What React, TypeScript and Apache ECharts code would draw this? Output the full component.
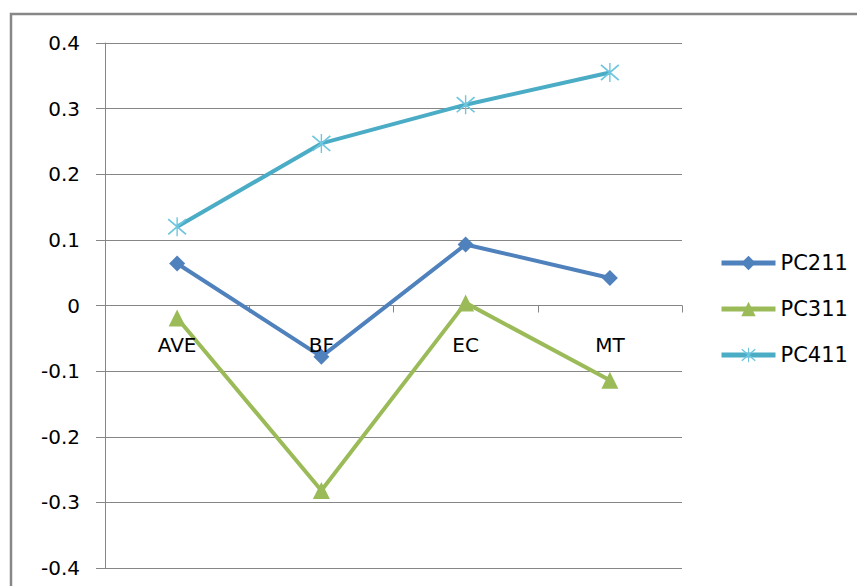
import React, { useEffect, useRef } from "react";
import * as echarts from "echarts";

const categories = ["AVE", "BF", "EC", "MT"];
const pc211 = [0.064, -0.078, 0.093, 0.042];
const pc311 = [-0.019, -0.282, 0.004, -0.114];
const pc411 = [0.12, 0.247, 0.306, 0.355];
const yTicks = [-0.4, -0.3, -0.2, -0.1, 0, 0.1, 0.2, 0.3, 0.4];

// Asterisk marker: one vertical bar crossed by two diagonals
const STAR =
  "path://M9.3,0 L10.7,0 L10.7,20 L9.3,20 Z M0.4,2.6 L1.6,1.4 L19.6,17.4 L18.4,18.6 Z M18.4,1.4 L19.6,2.6 L1.6,18.6 L0.4,17.4 Z";

const FONT = "DejaVu Sans";
const GRID_GRAY = "#868686";
const GRID_TOP = 43;
const GRID_BOTTOM = 18;
const CHART_H = 586;

export default function App() {
  const ref = useRef<HTMLDivElement>(null);

  useEffect(() => {
    document.body.style.margin = "0";
    if (!ref.current) return;
    const chart = echarts.init(ref.current, undefined, { renderer: "svg" });
    const yMin = yTicks[0];
    const yMax = yTicks[yTicks.length - 1];
    // distance from the bottom of the plot up to the zero line
    const plotH = CHART_H - GRID_TOP - GRID_BOTTOM;
    const zeroLift = (plotH * (0 - yMin)) / (yMax - yMin);

    chart.setOption({
      animation: false,
      backgroundColor: "#ffffff",
      textStyle: { fontFamily: FONT },
      grid: {
        left: 105,
        right: 175,
        top: GRID_TOP,
        bottom: GRID_BOTTOM,
        outerBoundsMode: "none",
        containLabel: false,
      },
      graphic: [
        {
          type: "rect",
          shape: { x: 11, y: 14, width: 900, height: 700 },
          style: { fill: "none", stroke: "#878787", lineWidth: 2.5 },
          silent: true,
        },
      ],
      legend: {
        orient: "vertical",
        left: 714,
        top: 246,
        itemWidth: 54,
        itemHeight: 18,
        itemGap: 22,
        lineStyle: { width: 5 },
        textStyle: { fontFamily: FONT, fontSize: 21, color: "#000", lineHeight: 24 },
        data: ["PC211", "PC311", "PC411"],
      },
      xAxis: [
        {
          type: "category",
          data: categories,
          boundaryGap: true,
          axisLine: { onZero: true, lineStyle: { color: GRID_GRAY, width: 1 } },
          axisTick: { show: true, length: 7, lineStyle: { color: GRID_GRAY } },
          axisLabel: { show: false },
          splitLine: { show: false },
        },
        {
          // category names sit just below the zero line, above the lines
          type: "category",
          data: categories,
          position: "bottom",
          offset: -zeroLift,
          z: 10,
          boundaryGap: true,
          axisLine: { show: false, onZero: false },
          axisTick: { show: false },
          axisLabel: { margin: 29, fontFamily: FONT, fontSize: 20, color: "#000" },
          splitLine: { show: false },
        },
      ],
      yAxis: {
        type: "value",
        min: yMin,
        max: yMax,
        interval: 0.1,
        axisLine: { show: true, lineStyle: { color: GRID_GRAY, width: 1 } },
        axisTick: { show: true, length: 9, lineStyle: { color: GRID_GRAY } },
        axisLabel: {
          margin: 25,
          fontFamily: FONT,
          fontSize: 20,
          color: "#000",
          formatter: (v: number) => {
            const r = Math.round(v * 10) / 10;
            return r === 0 ? "0" : r.toFixed(1);
          },
        },
        splitLine: { show: true, lineStyle: { color: GRID_GRAY, width: 1 } },
      },
      series: [
        {
          name: "PC211",
          type: "line",
          data: pc211,
          symbol: "diamond",
          symbolSize: 16,
          color: "#4F81BD",
          lineStyle: { width: 4, color: "#4F81BD" },
          itemStyle: { color: "#4F81BD" },
          emphasis: { disabled: true },
        },
        {
          name: "PC311",
          type: "line",
          data: pc311,
          symbol: "triangle",
          symbolSize: 17,
          color: "#9BBB59",
          lineStyle: { width: 4, color: "#9BBB59" },
          itemStyle: { color: "#9BBB59" },
          emphasis: { disabled: true },
        },
        {
          name: "PC411",
          type: "line",
          data: pc411,
          symbol: STAR,
          symbolSize: 19,
          color: "#4BACC6",
          lineStyle: { width: 4, color: "#4BACC6" },
          itemStyle: { color: "#6EC6DE" },
          emphasis: { disabled: true },
        },
      ],
    });
    return () => chart.dispose();
  }, []);

  return <div ref={ref} style={{ width: 857, height: 586 }} />;
}
